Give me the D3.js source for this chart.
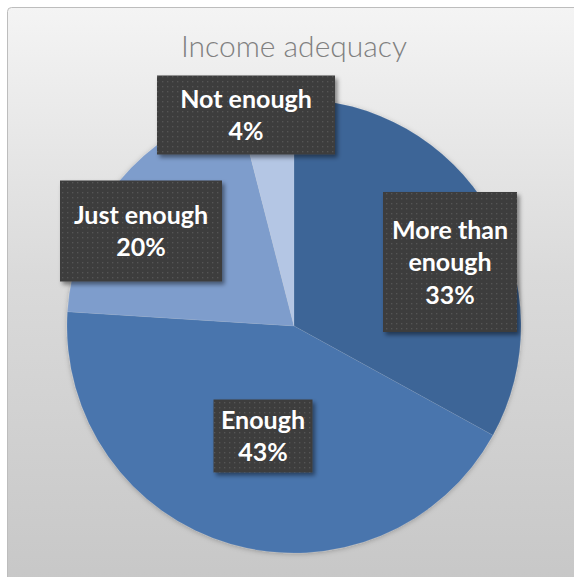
<!DOCTYPE html>
<html>
<head>
<meta charset="utf-8">
<script src="https://cdn.jsdelivr.net/npm/d3@7"></script>
<style>
  html, body { margin: 0; padding: 0; background: #ffffff; }
  svg { display: block; }
</style>
</head>
<body>
<svg id="chart" width="574" height="577"></svg>
<script>
// Survey answers: share of respondents per income adequacy level (percent)
const categories = ["More than enough", "Enough", "Just enough", "Not enough"];
const values = [33, 43, 20, 4];
const labelLines = [["More than", "enough"], ["Enough"], ["Just enough"], ["Not enough"]];
const title = "Income adequacy";

// Slice fills, darkest to lightest
const colors = ["#3d6597", "#4874ad", "#7e9dcc", "#b4c6e4"];

// Label boxes: centre relative to the pie centre, and size
const labelBoxes = [
  { dx: 156, dy: -64, w: 134, h: 140 },
  { dx: -31, dy: 110, w: 99, h: 73 },
  { dx: -153, dy: -95, w: 162, h: 101 },
  { dx: -48, dy: -211, w: 178, h: 79 }
];

const W = 574, H = 577;
const cx = 294, cy = 326, R = 227;

const svg = d3.select("#chart");
const defs = svg.append("defs");

// Chart area background gradient
const bg = defs.append("linearGradient").attr("id", "bgGrad")
  .attr("x1", 0).attr("y1", 0).attr("x2", 0).attr("y2", 1);
bg.append("stop").attr("offset", "0%").attr("stop-color", "#f4f4f4");
bg.append("stop").attr("offset", "45%").attr("stop-color", "#dadada");
bg.append("stop").attr("offset", "100%").attr("stop-color", "#c6c6c6");

// Dotted texture for the label boxes
const pat = defs.append("pattern").attr("id", "dots")
  .attr("patternUnits", "userSpaceOnUse").attr("width", 5).attr("height", 5);
pat.append("rect").attr("width", 5).attr("height", 5).attr("fill", "#3e3e3e");
pat.append("rect").attr("x", 1).attr("y", 1).attr("width", 1.3).attr("height", 1.3).attr("fill", "#545454");

// Drop shadow for boxes
const sh = defs.append("filter").attr("id", "shadow")
  .attr("x", "-20%").attr("y", "-20%").attr("width", "150%").attr("height", "150%");
sh.append("feDropShadow").attr("dx", 2.5).attr("dy", 3).attr("stdDeviation", 2)
  .attr("flood-color", "#000").attr("flood-opacity", 0.45);

const pshadow = defs.append("filter").attr("id", "pieShadow")
  .attr("x", "-10%").attr("y", "-10%").attr("width", "120%").attr("height", "120%");
pshadow.append("feDropShadow").attr("dx", 0).attr("dy", 1).attr("stdDeviation", 2.5)
  .attr("flood-color", "#000").attr("flood-opacity", 0.25);

// Chart area
svg.append("rect")
  .attr("x", 7.5).attr("y", 7.5).attr("width", W + 20).attr("height", H + 20)
  .attr("rx", 4)
  .attr("fill", "url(#bgGrad)")
  .attr("stroke", "#bdbdbd").attr("stroke-width", 1);

// Title
svg.append("text")
  .attr("x", cx).attr("y", 57)
  .attr("text-anchor", "middle")
  .attr("font-family", "Lato, 'Open Sans', sans-serif")
  .attr("font-weight", 300)
  .attr("font-size", 30)
  .attr("fill", "#808080")
  .text(title);

// Pie
const data = categories.map((c, i) => ({ category: c, value: values[i], idx: i }));
const pie = d3.pie().value(d => d.value).sort(null);
const arc = d3.arc().innerRadius(0).outerRadius(R);
const color = d3.scaleOrdinal().domain(categories).range(colors);

const g = svg.append("g").attr("transform", `translate(${cx},${cy})`);
g.append("g").attr("filter", "url(#pieShadow)")
  .selectAll("path")
  .data(pie(data))
  .join("path")
  .attr("d", arc)
  .attr("fill", d => color(d.data.category))
  .attr("stroke", "rgba(255,255,255,0.12)")
  .attr("stroke-width", 0.7);

// Label boxes
const total = d3.sum(values);
const labels = g.append("g").selectAll("g")
  .data(data)
  .join("g")
  .attr("transform", d => `translate(${labelBoxes[d.idx].dx},${labelBoxes[d.idx].dy})`);

labels.append("rect")
  .attr("x", d => -labelBoxes[d.idx].w / 2)
  .attr("y", d => -labelBoxes[d.idx].h / 2)
  .attr("width", d => labelBoxes[d.idx].w)
  .attr("height", d => labelBoxes[d.idx].h)
  .attr("fill", "url(#dots)")
  .attr("filter", "url(#shadow)");

const lineH = 32.5;
labels.each(function(d) {
  const lines = labelLines[d.idx].concat([Math.round(d.value / total * 100) + "%"]);
  const n = lines.length;
  const t = d3.select(this).append("text")
    .attr("text-anchor", "middle")
    .attr("font-family", "Lato, 'Open Sans', sans-serif")
    .attr("font-weight", 700)
    .attr("font-size", 25)
    .attr("fill", "#ffffff");
  lines.forEach((s, k) => {
    t.append("tspan")
      .attr("x", 0)
      .attr("y", (k - (n - 1) / 2) * lineH + 9)
      .text(s);
  });
});
</script>
</body>
</html>
